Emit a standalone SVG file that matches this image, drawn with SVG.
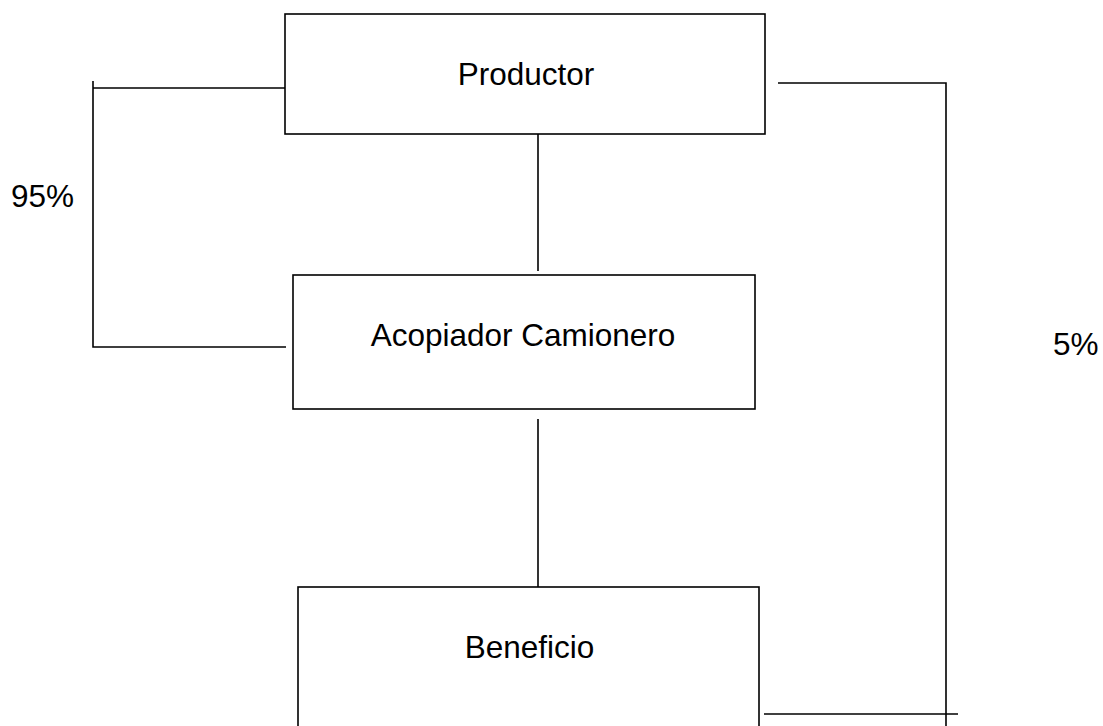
<svg xmlns="http://www.w3.org/2000/svg" width="1103" height="726" viewBox="0 0 1103 726">
<style>
.box{fill:#fff;stroke:#000;stroke-width:1.6}
.ln{fill:none;stroke:#000;stroke-width:1.6}
.t{font-family:"Liberation Sans",Arial,sans-serif;font-size:31.5px;fill:#000}
</style>
<rect width="1103" height="726" fill="#fff"/>
<g id="connectors">
<path class="ln" d="M285,88 H93 M93,81 V347 H286"/>
<path class="ln" d="M538,131 V271"/>
<path class="ln" d="M538,419 V587"/>
<path class="ln" d="M778,83 H946 V726"/>
<path class="ln" d="M764,714 H958"/>
</g>
<g id="productor">
<rect class="box" x="285" y="14" width="480" height="120"/>
<text class="t" x="526" y="85" text-anchor="middle">Productor</text>
</g>
<g id="acopiador">
<rect class="box" x="293" y="275" width="462" height="134"/>
<text class="t" x="523" y="346" text-anchor="middle">Acopiador Camionero</text>
</g>
<g id="beneficio">
<rect class="box" x="298" y="587" width="461" height="160"/>
<text class="t" x="529.5" y="658" text-anchor="middle">Beneficio</text>
</g>
<g id="labels">
<text class="t" x="11" y="207">95%</text>
<text class="t" x="1053" y="355">5%</text>
</g>
</svg>
